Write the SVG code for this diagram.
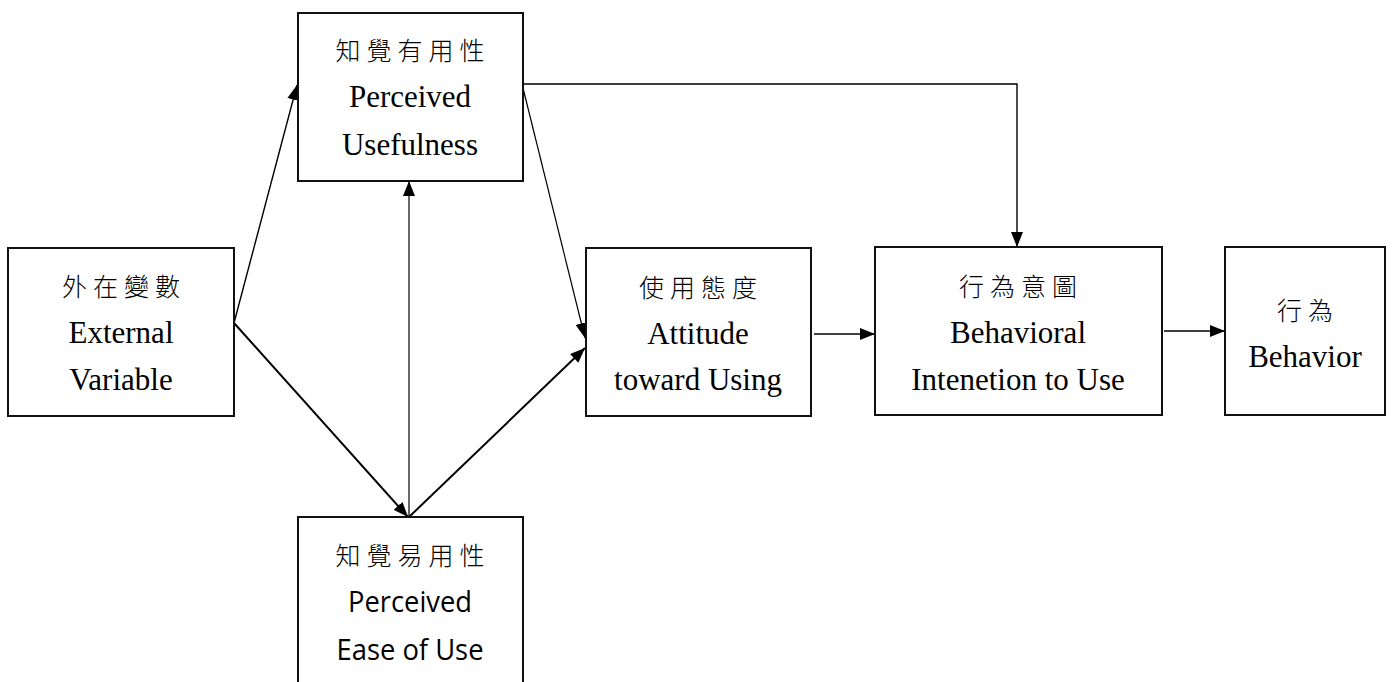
<svg xmlns="http://www.w3.org/2000/svg" width="1392" height="682" viewBox="0 0 1392 682">
<style>
.box{fill:#fff;stroke:#111;stroke-width:2}
.cjk{font-family:'Noto Sans CJK TC','Noto Sans CJK SC',sans-serif;font-size:25px;font-weight:300;letter-spacing:6px;text-anchor:middle;fill:#000}
.en{font-family:'Liberation Serif','Times New Roman',Times,serif;font-size:31px;text-anchor:middle;fill:#000}
.sans{font-family:'Open Sans',Lato,sans-serif;font-size:29px;text-anchor:middle;fill:#000}
.c{fill:none;stroke:#000}
</style>
<defs>
<marker id="ah" markerUnits="userSpaceOnUse" markerWidth="15" markerHeight="12" refX="15" refY="6" orient="auto">
<path d="M0,0 L15,6 L0,12 z" fill="#000"/>
</marker>
</defs>
<rect width="1392" height="682" fill="#fff"/>
<g id="connectors">
<line class="c" x1="234" y1="323" x2="297" y2="85" stroke-width="1.4" marker-end="url(#ah)"/>
<line class="c" x1="234" y1="323" x2="408" y2="517" stroke-width="2" marker-end="url(#ah)"/>
<line class="c" x1="409" y1="517" x2="409" y2="181" stroke-width="1.2" marker-end="url(#ah)"/>
<line class="c" x1="409" y1="517" x2="585" y2="348" stroke-width="2" marker-end="url(#ah)"/>
<line class="c" x1="522" y1="84" x2="585" y2="338" stroke-width="1.2" marker-end="url(#ah)"/>
<path class="c" d="M523,84 H1017 V247" stroke="#333" stroke-width="1.4" marker-end="url(#ah)"/>
<line class="c" x1="814" y1="334" x2="875" y2="334" stroke-width="1.5" marker-end="url(#ah)"/>
<line class="c" x1="1164" y1="331" x2="1225" y2="331" stroke-width="1.5" marker-end="url(#ah)"/>
</g>
<g id="node-pu">
<rect class="box" x="298" y="13" width="225" height="168"/>
<text class="cjk" x="413" y="60">知覺有用性</text>
<text class="en" font-family="Liberation Serif" x="410" y="107">Perceived</text>
<text class="en" font-family="Liberation Serif" x="410" y="155">Usefulness</text>
</g>
<g id="node-ext">
<rect class="box" x="8" y="248" width="226" height="168"/>
<text class="cjk" x="124" y="296">外在變數</text>
<text class="en" font-family="Liberation Serif" x="121" y="343">External</text>
<text class="en" font-family="Liberation Serif" x="121" y="390">Variable</text>
</g>
<g id="node-peu">
<rect class="box" x="298" y="517" width="225" height="180"/>
<text class="cjk" x="413" y="565">知覺易用性</text>
<text class="sans" x="410" y="612" textLength="124" lengthAdjust="spacingAndGlyphs">Perceived</text>
<text class="sans" x="410" y="660" textLength="147" lengthAdjust="spacingAndGlyphs">Ease of Use</text>
</g>
<g id="node-att">
<rect class="box" x="586" y="248" width="225" height="168"/>
<text class="cjk" x="701" y="297">使用態度</text>
<text class="en" font-family="Liberation Serif" x="698" y="344">Attitude</text>
<text class="en" font-family="Liberation Serif" x="698" y="390">toward Using</text>
</g>
<g id="node-bi">
<rect class="box" x="875" y="247" width="287" height="168"/>
<text class="cjk" x="1021" y="296">行為意圖</text>
<text class="en" font-family="Liberation Serif" x="1018" y="343">Behavioral</text>
<text class="en" font-family="Liberation Serif" x="1018" y="390">Intenetion to Use</text>
</g>
<g id="node-beh">
<rect class="box" x="1225" y="247" width="160" height="168"/>
<text class="cjk" x="1308" y="320">行為</text>
<text class="en" font-family="Liberation Serif" x="1305" y="367">Behavior</text>
</g>
</svg>
